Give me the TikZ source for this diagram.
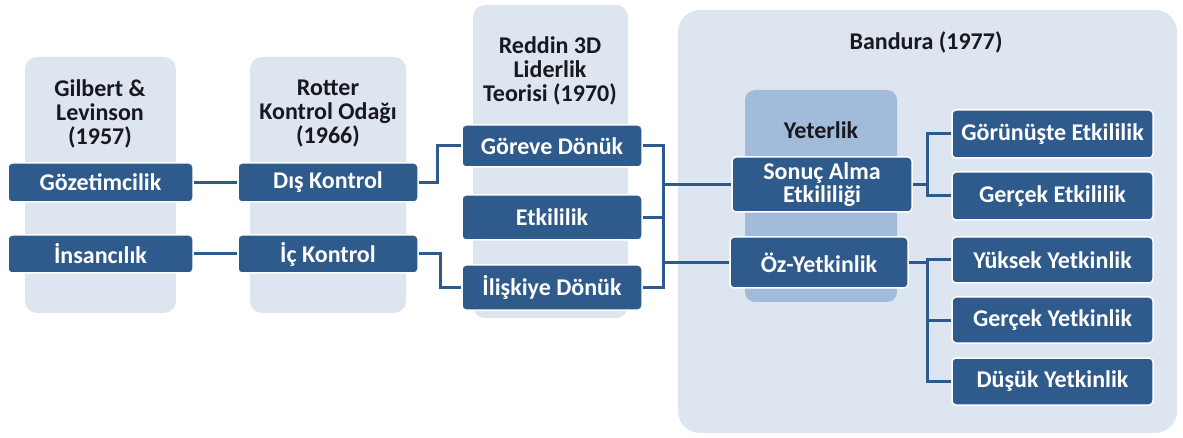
\documentclass[tikz,border=0pt]{standalone}
\usepackage{fontspec}
\setmainfont{Carlito}
\usepackage{xcolor}
\usepackage{tikz}
\usetikzlibrary{positioning}

\definecolor{boxblue}{RGB}{47,90,140}
\definecolor{colgray}{RGB}{221,229,240}
\definecolor{midblue}{RGB}{162,187,218}
\definecolor{titlegray}{RGB}{24,24,30}

\begin{document}
\begin{tikzpicture}[x=1pt, y=-1pt,
    darkbox/.style={draw=white, line width=1.5pt, fill=boxblue, rounded corners=4pt,
        text=white, font=\fontsize{24}{23}\selectfont\bfseries, align=center,
        inner sep=0pt},
    coltitle/.style={text=titlegray, font=\fontsize{24}{24}\selectfont\bfseries, align=center},
    link/.style={draw=boxblue, line width=3pt}]
\useasboundingbox (0,0) rectangle (1183,438);

% Column backgrounds
\fill[colgray, rounded corners=12pt] (25,57) rectangle (176,313);
\fill[colgray, rounded corners=12pt] (250,57) rectangle (406,313);
\fill[colgray, rounded corners=12pt] (473,5) rectangle (628,318);
\fill[colgray, rounded corners=22pt] (678,10) rectangle (1177,433);
\fill[midblue, rounded corners=10pt] (745,90) rectangle (897,302);

% Column titles
\node[coltitle] (tgil) at (100,114) {Gilbert \&\\Levinson\\(1957)};
\node[coltitle] (trot) at (328,114) {Rotter\\Kontrol Odağı\\(1966)};
\node[coltitle] (tred) at (550,71) {Reddin 3D\\Liderlik\\Teorisi (1970)};
\node[coltitle] (tban) at (926,42) {Bandura (1977)};
\node[coltitle] (tyet) at (821,130) {Yeterlik};

% First two columns
\node[darkbox, minimum width=185pt, minimum height=39pt] (goz) at (100.5,182.5) {Gözetimcilik};
\node[darkbox, minimum width=185pt, minimum height=38pt] (ins) at (100.5,254) {İnsancılık};
\node[darkbox, minimum width=180pt, minimum height=39pt] (dis) at (328,182.5) {Dış Kontrol};
\node[darkbox, minimum width=180pt, minimum height=38pt] (ic) at (328,254) {İç Kontrol};

% Reddin column
\node[darkbox, minimum width=180pt, minimum height=42pt] (gor) at (552,146) {Göreve Dönük};
\node[darkbox, minimum width=180pt, minimum height=45pt] (etk) at (552,217.5) {Etkililik};
\node[darkbox, minimum width=180pt, minimum height=45pt] (ili) at (552,287.5) {İlişkiye Dönük};

% Bandura column
\node[darkbox, minimum width=180pt, minimum height=55pt] (son) at (822,184.5) {Sonuç Alma\\Etkililiği};
\node[darkbox, minimum width=178pt, minimum height=51pt] (oz) at (819,262.5) {Öz-Yetkinlik};

\foreach \name/\y/\h/\txt in {gorE/134/48/Görünüşte Etkililik, gerE/196/48/Gerçek Etkililik,
    yuk/260/46/Yüksek Yetkinlik, gerY/320/46/Gerçek Yetkinlik, dus/381.5/47/Düşük Yetkinlik} {
    \node[darkbox, minimum width=201pt, minimum height=\h pt] (\name) at (1052.5,\y) {\txt};
}

% Connectors
\draw[link] (goz) -- (dis);
\draw[link] (ins) -- (ic);
\draw[link] (dis.east) -- ++(19,0) |- (gor.west);
\draw[link] (ic.east) -- ++(22,0) |- (ili.west);
\draw[link] (gor.east) -- ++(21,0) |- (ili.east);
\draw[link] (etk.east) -- ++(21,0);
\draw[link] (son.west) -- ++(-69,0);
\draw[link] (oz.west) -- ++(-67,0);
\draw[link] (son.east) -- ++(16,0);
\draw[link] (gorE.west) -- ++(-24,0) |- (gerE.west);
\draw[link] (oz.east) -- ++(20,0);
\draw[link] (yuk.west) -- ++(-24,0) |- (dus.west);
\draw[link] (gerY.west) -- ++(-24,0);

\end{tikzpicture}
\end{document}
